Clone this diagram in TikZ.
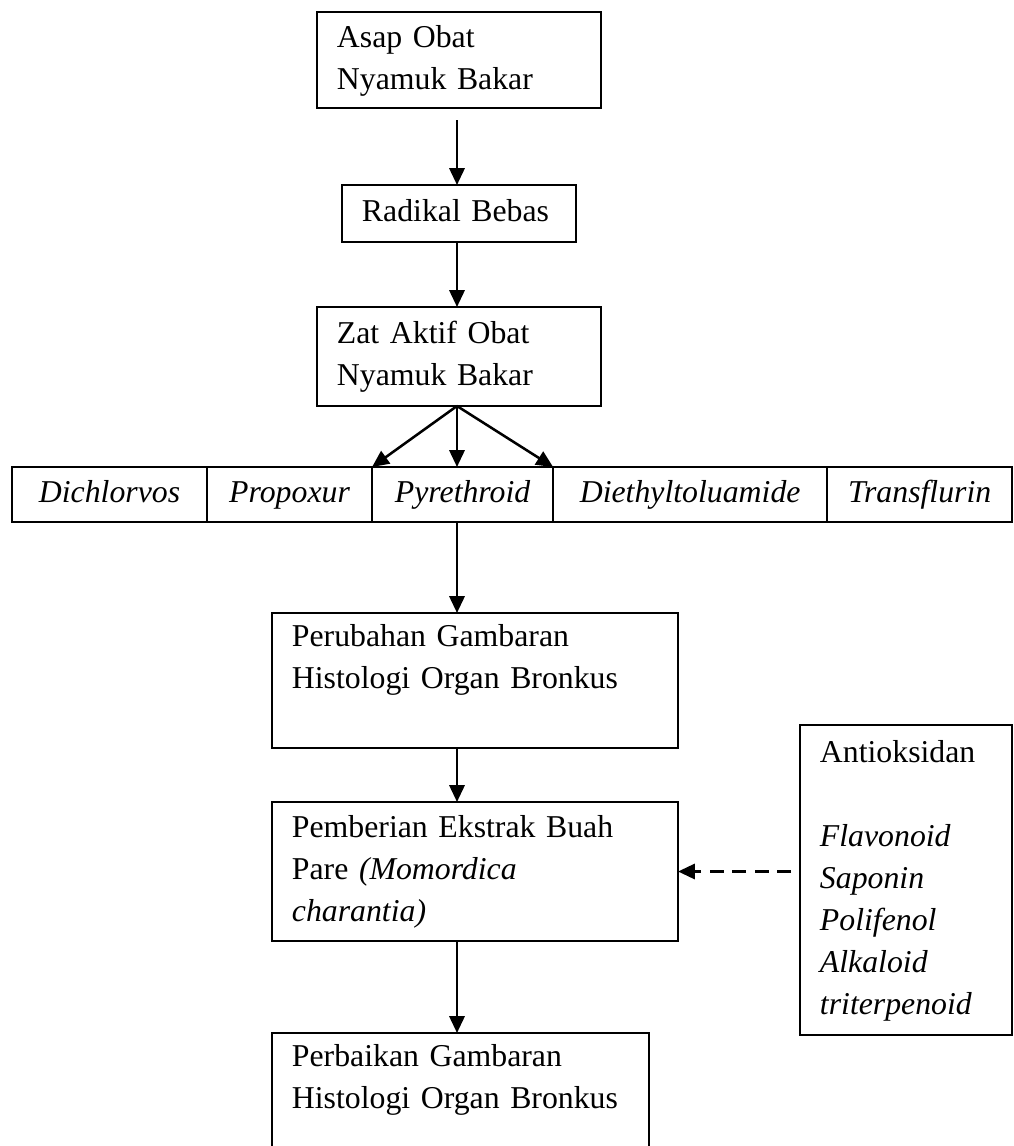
\documentclass[tikz,border=0pt]{standalone}
\usepackage{fontspec}
\setmainfont{Liberation Serif}
\usetikzlibrary{arrows.meta,positioning}

\newcommand{\diagfont}{\fontsize{11.3pt}{14.9pt}\selectfont}

\tikzset{
  box/.style={draw, rectangle, line width=0.8pt, inner xsep=0.25cm, inner ysep=0pt,
    outer sep=0pt, align=left, font=\diagfont},
  cell/.style={draw, rectangle, line width=0.8pt, inner sep=0pt, outer sep=0pt,
    minimum height=0.6875cm, font=\diagfont\itshape, execute at begin node=\strut},
  arr/.style={-{Triangle[length=0.21cm,width=0.19cm]}, line width=0.9pt},
  dasharr/.style={arr, dash pattern=on 5pt off 3pt}
}

\begin{document}
\begin{tikzpicture}[x=0.0125cm, y=-0.0125cm]
    \clip (0,0) rectangle (1014,1146);

    % Flow boxes
    \node[box, text width=3.05cm, minimum height=1.2cm] (asap) at (459,60) {Asap Obat\strut\\Nyamuk Bakar\strut};
    \node[box, text width=2.425cm, minimum height=0.7125cm] (radikal) at (459,213.5) {Radikal Bebas\strut};
    \node[box, text width=3.05cm, minimum height=1.2375cm] (zat) at (459,356.5) {Zat Aktif Obat\strut\\Nyamuk Bakar\strut};

    % Active substances
    \node[cell, minimum width=2.4375cm] (dichlorvos) at (109.5,494.5) {Dichlorvos};
    \node[cell, minimum width=2.0625cm, right=0pt of dichlorvos] (propoxur) {Propoxur};
    \node[cell, minimum width=2.2625cm, right=0pt of propoxur] (pyrethroid) {Pyrethroid};
    \node[cell, minimum width=3.425cm, right=0pt of pyrethroid] (diethyl) {Diethyltoluamide};
    \node[cell, minimum width=2.3125cm, right=0pt of diethyl] (transflurin) {Transflurin};

    % Effect and treatment
    \node[box, text width=4.575cm, minimum height=1.6875cm] (perubahan) at (475,680.5) {Perubahan Gambaran\strut\\Histologi Organ Bronkus\\\strut};
    \node[box, text width=4.575cm, minimum height=1.7375cm] (pemberian) at (475,871.5) {\strut Pemberian Ekstrak Buah\\Pare \textit{(Momordica}\\\textit{charantia)}\strut};
    \node[box, text width=4.2125cm, minimum height=1.6875cm] (perbaikan) at (460.5,1100.5) {Perbaikan Gambaran\strut\\Histologi Organ Bronkus\\\strut};
    \node[box, text width=2.15cm, minimum height=3.875cm] (antioksidan) at (906,880) {Antioksidan\strut\\\strut\\\textit{Flavonoid}\\\textit{Saponin}\\\textit{Polifenol}\\\textit{Alkaloid}\\\textit{triterpenoid}\strut};

    % Arrows
    \coordinate (spine) at (457,0);
    \draw[arr, shorten <=0.15cm] (spine |- asap.south) -- (spine |- radikal.north);
    \draw[arr] (spine |- radikal.south) -- (spine |- zat.north);
    \draw[arr] (spine |- zat.south) -- (pyrethroid.north west);
    \draw[arr] (spine |- zat.south) -- (spine |- pyrethroid.north);
    \draw[arr] (spine |- zat.south) -- (pyrethroid.north east);
    \draw[arr] (spine |- pyrethroid.south) -- (spine |- perubahan.north);
    \draw[arr] (spine |- perubahan.south) -- (spine |- pemberian.north);
    \draw[arr] (spine |- pemberian.south) -- (spine |- perbaikan.north);
    \draw[dasharr, shorten <=0.11cm] (antioksidan.west |- pemberian.east) -- (pemberian.east);
\end{tikzpicture}
\end{document}
